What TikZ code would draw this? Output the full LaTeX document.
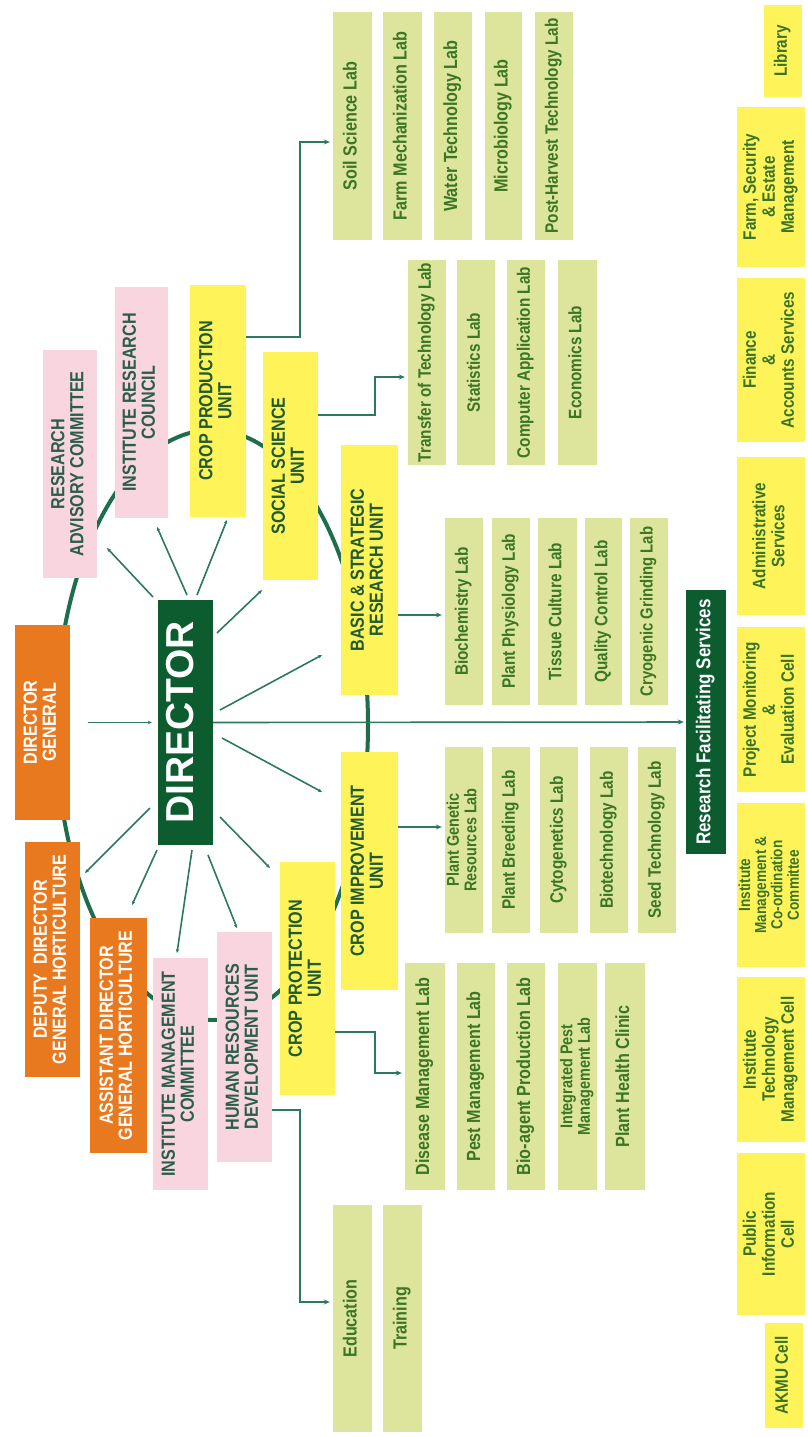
\documentclass[tikz,border=0pt]{standalone}
\usepackage{fontspec}
\usepackage{graphicx}
\setmainfont{Liberation Sans}[FakeStretch=0.85]
\newfontfamily\widefont{Liberation Sans}
\usetikzlibrary{arrows.meta}
\definecolor{org}{HTML}{E8791F}
\definecolor{pnk}{HTML}{F9D5DF}
\definecolor{yel}{HTML}{FFF35A}
\definecolor{labc}{HTML}{DDE49C}
\definecolor{dgreen}{HTML}{0C5C30}
\definecolor{lnc}{HTML}{2B7A60}
\definecolor{ringc}{HTML}{1E6E4C}
\definecolor{labtxt}{HTML}{3A7624}
\definecolor{unittxt}{HTML}{1F5A32}
\definecolor{pinktxt}{HTML}{2A5E4A}
\definecolor{svctxt}{HTML}{3A7428}
\newcommand\fs[1]{\fontsize{#1}{#1}\selectfont}
\newcommand\rt[1]{\rotatebox{90}{\begin{tabular}{@{}c@{}}#1\end{tabular}}}
\newcommand\BX[7]{\node[#1,minimum width={#5pt-#3pt},minimum height={#6pt-#4pt}] (#2) at ({(#3+#5)/2},{(#4+#6)/2}) {\rt{#7}};}
\tikzset{
  basebox/.style={rectangle,inner sep=0pt,font=\bfseries\fs{19}},
  labbox/.style={basebox,fill=labc,text=labtxt,font=\bfseries\fs{18}},
  unitbox/.style={basebox,fill=yel,text=unittxt},
  pinkbox/.style={basebox,fill=pnk,text=pinktxt},
  orgbox/.style={basebox,fill=org,text=white},
  svcbox/.style={basebox,fill=yel,text=svctxt,font=\bfseries\fontsize{18}{19}\selectfont},
  dgbox/.style={basebox,fill=dgreen,text=white},
  cnx/.style={draw=lnc,line width=1.6pt},
  cnxa/.style={cnx,-{Stealth[length=6pt,width=5pt]}},
  radial/.style={cnx,-{Stealth[length=4pt,width=3.5pt]}},
}
\begin{document}
\begin{tikzpicture}[x=1pt,y=-1pt]
\useasboundingbox (0,0) rectangle (808,1437);
\fill[white] (0,0) rectangle (808,1437);
% ring
\draw[ringc,line width=4pt] (212,725) ellipse [x radius=156, y radius=295];
% central
\BX{dgbox,font=\widefont\bfseries\fs{39}}{dir}{158}{600}{213}{845}{DIRECTOR}
\BX{dgbox,font=\bfseries\fs{20}}{rfs}{686}{590}{726}{854}{Research Facilitating Services}
% orange
\BX{orgbox}{dg}{15}{625}{70}{820}{DIRECTOR\\GENERAL}
\BX{orgbox}{ddg}{25}{842}{80}{1077}{DEPUTY~~DIRECTOR\\GENERAL HORTICULTURE}
\BX{orgbox}{adg}{90}{918}{147}{1153}{ASSISTANT DIRECTOR\\GENERAL HORTICULTURE}
% pink
\BX{pinkbox}{rac}{43}{350}{97}{578}{RESEARCH\\ADVISORY COMMITTEE}
\BX{pinkbox}{irc}{115}{287}{168}{518}{INSTITUTE RESEARCH\\COUNCIL}
\BX{pinkbox}{imc}{153}{958}{208}{1190}{INSTITUTE MANAGEMENT\\COMMITTEE}
\BX{pinkbox}{hrd}{217}{932}{272}{1162}{HUMAN RESOURCES\\DEVELOPMENT UNIT}
% units
\BX{unitbox}{cpu}{190}{285}{246}{517}{CROP PRODUCTION\\UNIT}
\BX{unitbox}{ssu}{263}{352}{318}{580}{SOCIAL SCIENCE\\UNIT}
\BX{unitbox}{bsru}{341}{445}{398}{695}{BASIC \& STRATEGIC\\RESEARCH UNIT}
\BX{unitbox}{ciu}{341}{752}{398}{990}{CROP IMPROVEMENT\\UNIT}
\BX{unitbox}{cpr}{280}{862}{335}{1095}{CROP PROTECTION\\UNIT}
% labs A
\BX{labbox,font=\bfseries\fs{19}}{soil}{333}{12}{372}{240}{Soil Science Lab}
\BX{labbox,font=\bfseries\fs{19}}{farm}{383}{12}{422}{240}{Farm Mechanization Lab}
\BX{labbox,font=\bfseries\fs{19}}{water}{434}{12}{472}{240}{Water Technology Lab}
\BX{labbox,font=\bfseries\fs{19}}{micro}{485}{12}{522}{240}{Microbiology Lab}
\BX{labbox}{post}{535}{12}{573}{240}{Post-Harvest Technology Lab}
% labs B
\BX{labbox}{tot}{408}{260}{446}{465}{Transfer of Technology Lab}
\BX{labbox}{stat}{457}{260}{495}{465}{Statistics Lab}
\BX{labbox}{comp}{507}{260}{545}{465}{Computer Application Lab}
\BX{labbox}{econ}{558}{260}{597}{465}{Economics Lab}
% labs C
\BX{labbox}{bio}{445}{518}{483}{705}{Biochemistry Lab}
\BX{labbox}{phys}{492}{518}{530}{705}{Plant Physiology Lab}
\BX{labbox}{tissue}{538}{518}{577}{705}{Tissue Culture Lab}
\BX{labbox}{qc}{585}{518}{622}{705}{Quality Control Lab}
\BX{labbox,font=\bfseries\fs{17.5}}{cryo}{630}{518}{668}{705}{Cryogenic Grinding Lab}
% labs D
\BX{labbox,font=\bfseries\fontsize{17}{17}\selectfont}{pgr}{445}{747}{483}{933}{Plant Genetic\\Resources Lab}
\BX{labbox}{breed}{492}{747}{530}{933}{Plant Breeding Lab}
\BX{labbox}{cyto}{540}{747}{578}{933}{Cytogenetics Lab}
\BX{labbox}{biot}{590}{747}{628}{933}{Biotechnology Lab}
\BX{labbox}{seed}{638}{747}{676}{933}{Seed Technology Lab}
% labs E
\BX{labbox,font=\bfseries\fs{19}}{dis}{405}{963}{445}{1190}{Disease Management Lab}
\BX{labbox,font=\bfseries\fs{19}}{pest}{457}{963}{495}{1190}{Pest Management Lab}
\BX{labbox,font=\bfseries\fs{19}}{bioag}{507}{963}{545}{1190}{Bio-agent Production Lab}
\BX{labbox,font=\bfseries\fontsize{17}{17}\selectfont}{ipm}{558}{963}{597}{1190}{Integrated Pest\\Management Lab}
\BX{labbox,font=\bfseries\fs{19}}{phc}{605}{963}{645}{1190}{Plant Health Clinic}
% labs F
\BX{labbox,font=\bfseries\fs{19}}{edu}{333}{1205}{372}{1432}{Education}
\BX{labbox,font=\bfseries\fs{19}}{train}{383}{1205}{422}{1432}{Training}
% services
\BX{svcbox}{lib}{764}{5}{802}{97}{Library}
\BX{svcbox}{fsem}{737}{107}{805}{267}{Farm, Security\\\& Estate\\Management}
\BX{svcbox}{fin}{737}{278}{805}{442}{Finance\\\&\\Accounts Services}
\BX{svcbox}{adm}{737}{457}{805}{615}{Administrative\\Services}
\BX{svcbox}{pme}{737}{627}{805}{792}{Project Monitoring\\\&\\Evaluation Cell}
\BX{svcbox,font=\bfseries\fontsize{16}{16}\selectfont}{imcc}{737}{803}{805}{967}{Institute\\Management \&\\Co-ordination\\Committee}
\BX{svcbox}{itmc}{737}{977}{805}{1142}{Institute\\Technology\\Management Cell}
\BX{svcbox}{pic}{737}{1153}{805}{1315}{Public\\Information\\Cell}
\BX{svcbox}{akmu}{765}{1323}{803}{1428}{AKMU Cell}
% main connectors
\draw[radial,shorten <=18pt,shorten >=6pt] (dg.east) -- (dir.west);
\draw[cnxa,shorten >=2pt] (dir.east) -- (rfs.west);
% radial connectors from the director
\foreach \a/\b/\c/\d in {153/597/107/548, 187/595/157/527, 197/595/227/520,
  217/633/262/590, 220/710/322/655, 222/738/322/792, 220/817/270/868,
  208/855/237/928, 192/850/177/953, 157/850/132/905, 150/808/85/873}
  \draw[radial] (\a,\b) -- (\c,\d);
% elbow connectors to the labs
\draw[cnxa,shorten >=3pt] (cpu.east |- 0,337) -- (300,337) |- (soil.west |- 0,142);
\draw[cnxa,shorten >=3pt] (ssu.east |- 0,415) -- (375,415) |- (tot.west |- 0,377);
\draw[cnxa,shorten >=3pt] (bsru.east |- 0,615) -- (bio.west |- 0,615);
\draw[cnxa,shorten >=3pt] (ciu.east |- 0,827) -- (pgr.west |- 0,827);
\draw[cnxa,shorten >=3pt] (cpr.east |- 0,1032) -- (375,1032) |- (dis.west |- 0,1073);
\draw[cnxa,shorten >=3pt] (hrd.east |- 0,1110) -- (300,1110) |- (edu.west |- 0,1302);
\end{tikzpicture}
\end{document}
